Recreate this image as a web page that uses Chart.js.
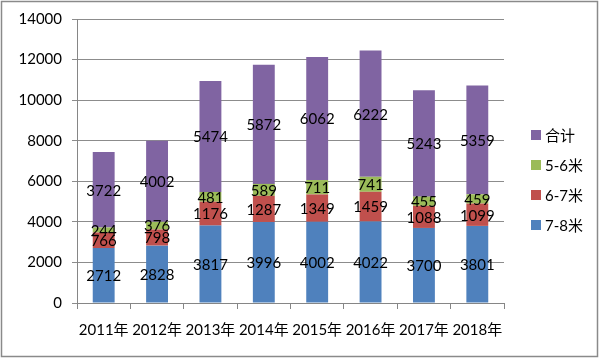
<!DOCTYPE html>
<html><head><meta charset="utf-8">
<script src="https://cdn.jsdelivr.net/npm/chart.js@4/dist/chart.umd.min.js"></script>
<style>html,body{margin:0;padding:0;background:#fff}#wrap{width:600px;height:359px;position:relative}</style>
</head><body><div id="wrap"><canvas id="c" width="600" height="359"></canvas></div>
<script>
const categories = ['2011年','2012年','2013年','2014年','2015年','2016年','2017年','2018年'];
const seriesNames = ['7-8米','6-7米','5-6米','合计'];
const s78 = [2712,2828,3817,3996,4002,4022,3700,3801];
const s67 = [766,798,1176,1287,1349,1459,1088,1099];
const s56 = [244,376,481,589,711,741,455,459];
const sTotal = [3722,4002,5474,5872,6062,6222,5243,5359];
const yTicks = [0,2000,4000,6000,8000,10000,12000,14000];
const colors = ['#4F81BD','#C0504D','#9BBB59','#8064A2'];
const FONT = "Lato, 'Noto Sans CJK SC', sans-serif";

const labelPlugin = {
  id:'labels',
  afterDatasetsDraw(chart){
    const ctx = chart.ctx;
    ctx.save();
    ctx.font = '15px ' + FONT;
    ctx.fillStyle = '#000';
    ctx.textAlign = 'center';
    ctx.textBaseline = 'middle';
    chart.data.datasets.forEach((ds,i)=>{
      chart.getDatasetMeta(i).data.forEach((bar,j)=>{
        const p = bar.getProps(['x','y','base'],true);
        ctx.fillText(String(ds.data[j]), p.x, (p.y+p.base)/2 + 1);
      });
    });
    ctx.restore();
  }
};
const legendBorderPlugin = {
  id:'legendBorder',
  afterDraw(chart){
    const ctx = chart.ctx;
    ctx.save();
    ctx.font = '15px ' + FONT;
    ctx.textBaseline = 'middle';
    ctx.textAlign = 'left';
    const ys = [135,165,195,225];
    for(let k=0;k<4;k++){
      const idx = 3-k;
      ctx.fillStyle = colors[idx];
      ctx.fillRect(531, ys[k]-5, 10, 10);
      ctx.fillStyle = '#000';
      ctx.fillText(seriesNames[idx], 545, ys[k]+1);
    }
    ctx.strokeStyle = '#8a8a8a';
    ctx.lineWidth = 1.5;
    ctx.strokeRect(1.5,1.5,596,355);
    ctx.restore();
  }
};

new Chart(document.getElementById('c'),{
  type:'bar',
  data:{
    labels:categories,
    datasets:[s78,s67,s56,sTotal].map((d,i)=>({
      label:seriesNames[i], data:d, backgroundColor:colors[i],
      barPercentage:0.41, categoryPercentage:1.0, borderWidth:0
    }))
  },
  options:{
    responsive:false, animation:false,
    layout:{padding:{left:10,right:96,top:19,bottom:4}},
    plugins:{legend:{display:false},tooltip:{enabled:false}},
    scales:{
      x:{stacked:true,
        grid:{offset:true,drawOnChartArea:false,drawTicks:true,tickLength:6,color:'#868686'},
        border:{color:'#868686'},
        ticks:{font:{family:FONT,size:15},color:'#000',padding:12,maxRotation:0,autoSkip:false},
        afterFit(s){s.height = 359-303-4;}
      },
      y:{stacked:true,min:0,max:14000,
        afterBuildTicks(s){s.ticks = yTicks.map(v=>({value:v}));},
        grid:{color:'#8c8c8c',drawTicks:true,tickLength:5},
        border:{color:'#868686'},
        ticks:{font:{family:FONT,size:15},color:'#000',padding:10,callback:(v)=>String(v)},
        afterFit(s){s.width = 77-10;}
      }
    }
  },
  plugins:[labelPlugin,legendBorderPlugin]
});
</script></body></html>
